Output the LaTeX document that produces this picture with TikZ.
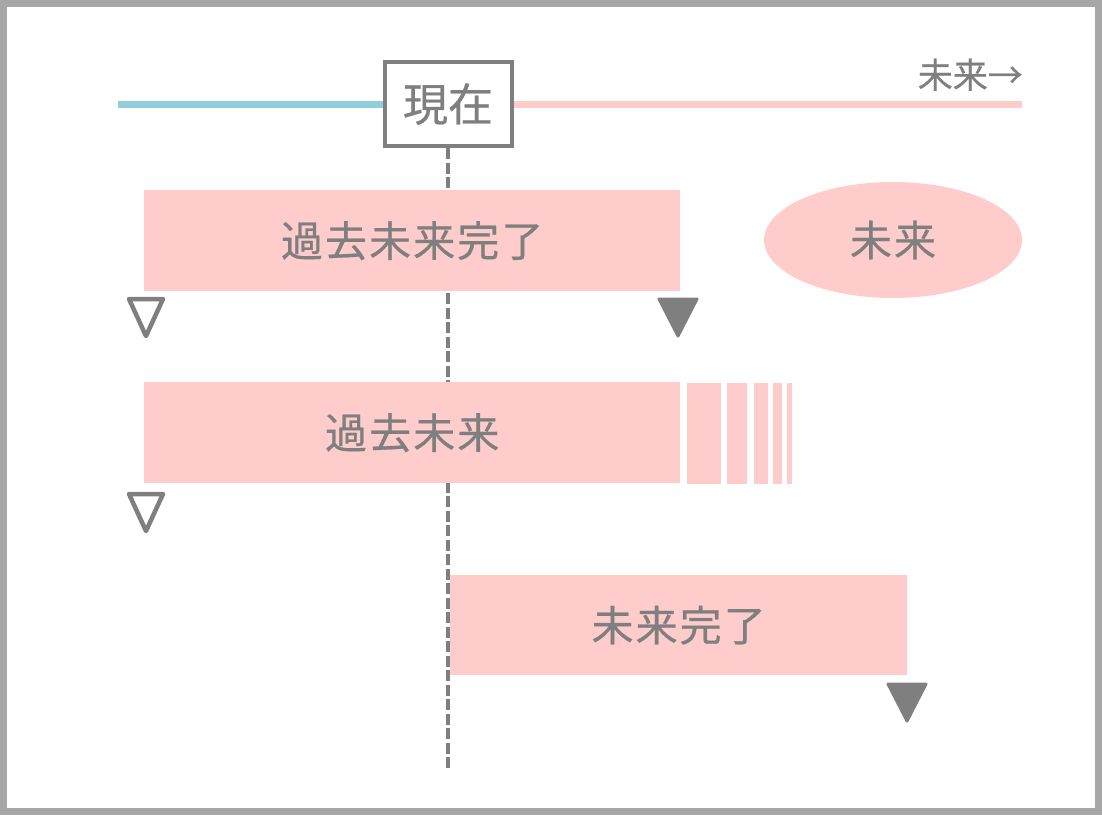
\documentclass[tikz,border=0pt]{standalone}
\usepackage{fontspec}
\setmainfont{Noto Sans CJK JP}
\newfontfamily\cjk[FakeBold=0.6]{Noto Sans CJK JP}
\usetikzlibrary{shapes.geometric}
\definecolor{pinkc}{HTML}{FFCCCC}
\definecolor{bluec}{HTML}{92CDDC}
\definecolor{grayc}{HTML}{7F7F7F}
\definecolor{framec}{HTML}{A6A6A6}
\tikzset{
  bar/.style={fill=pinkc, draw=none, inner sep=0pt, anchor=north west},
  lbl/.style={text=grayc, font=\cjk\fontsize{42}{44}\selectfont\addfontfeature{LetterSpace=5}},
  opentri/.style={draw=grayc, line width=4.5pt, line join=round, fill=white},
  filltri/.style={draw=grayc, fill=grayc, line width=3pt, line join=round},
  stripe/.style={fill=pinkc, draw=none},
}
\begin{document}
\begin{tikzpicture}[x=1pt, y=-1pt]
\useasboundingbox (0,0) rectangle (1102,815);
\draw[framec, line width=7pt] (3.5,3.5) rectangle (1098.5,811.5);
% timeline
\coordinate (tl) at (118,104);
\coordinate (tr) at (1022,104);
\node[draw=grayc, line width=4pt, fill=white, minimum width=127pt, minimum height=84pt, inner sep=0pt,
  text=grayc, font=\cjk\fontsize{45}{48}\selectfont] (now) at (448,104) {現在};
\draw[bluec, line width=7pt] (tl) -- (now.west);
\draw[pinkc, line width=7pt] (now.east) -- (tr);
\node[text=grayc, font=\cjk\fontsize{35}{37}\selectfont, anchor=base east, inner sep=0pt] (fut) at (1023,88) {未来→};
% dashed line
\coordinate (dend) at (448,770);
\draw[grayc, line width=3.5pt, dash pattern=on 11pt off 3.5pt] (now.south) -- (dend);
% bars
\node[bar, minimum width=536pt, minimum height=101pt] (b1) at (144,190) {};
\node[lbl] at (b1.center) {過去未来完了};
\node[ellipse, fill=pinkc, minimum width=258pt, minimum height=116pt, inner sep=0pt] (el) at (893,240) {};
\node[lbl] at (el.center) {未来};
\node[bar, minimum width=536pt, minimum height=101pt] (b2) at (144,382) {};
\node[lbl] at (b2.center) {過去未来};
\fill[stripe] (687,383) rectangle (721,484);
\fill[stripe] (727,383) rectangle (747,484);
\fill[stripe] (754,383) rectangle (768,484);
\fill[stripe] (773,383) rectangle (782,484);
\fill[stripe] (787,383) rectangle (792,484);
\node[bar, minimum width=457pt, minimum height=100pt] (b3) at (450,575) {};
\node[lbl] at (b3.center) {未来完了};
% triangles
\draw[opentri] (129,299) -- (163,299) -- (146,336) -- cycle;
\draw[filltri] (659,299) -- (697,299) -- (678,336) -- cycle;
\draw[opentri] (129,494) -- (163,494) -- (146,531) -- cycle;
\draw[filltri] (888,684) -- (926,684) -- (907,721) -- cycle;
\end{tikzpicture}
\end{document}
